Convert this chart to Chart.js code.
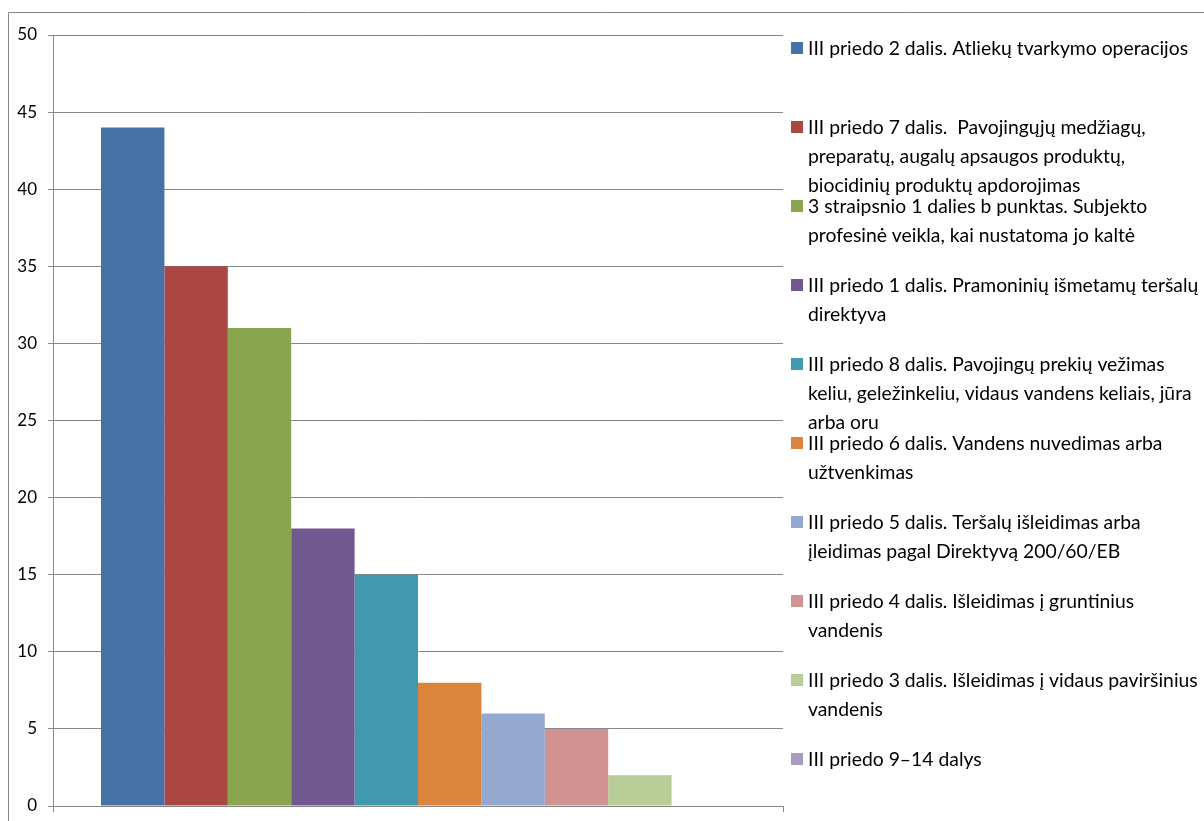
<!DOCTYPE html>
<html>
<head>
<meta charset="utf-8">
<script src="https://cdn.jsdelivr.net/npm/chart.js@4.4.1/dist/chart.umd.min.js"></script>
<style>
  html, body { margin: 0; padding: 0; background: #fff; }
  .chart-box { width: 1204px; height: 821px; position: relative; }
</style>
</head>
<body>
<div class="chart-box"><canvas id="grafico"></canvas></div>
<script>
// dados
const categorias = ['']
const valores = [44, 35, 31, 18, 15, 8, 6, 5, 2, 0]
const legendaLinhas = [
    ['III priedo 2 dalis. Atliekų tvarkymo operacijos'],
    ['III priedo 7 dalis.  Pavojingųjų medžiagų,', 'preparatų, augalų apsaugos produktų,', 'biocidinių produktų apdorojimas'],
    ['3 straipsnio 1 dalies b punktas. Subjekto', 'profesinė veikla, kai nustatoma jo kaltė'],
    ['III priedo 1 dalis. Pramoninių išmetamų teršalų', 'direktyva'],
    ['III priedo 8 dalis. Pavojingų prekių vežimas', 'keliu, geležinkeliu, vidaus vandens keliais, jūra', 'arba oru'],
    ['III priedo 6 dalis. Vandens nuvedimas arba', 'užtvenkimas'],
    ['III priedo 5 dalis. Teršalų išleidimas arba', 'įleidimas pagal Direktyvą 200/60/EB'],
    ['III priedo 4 dalis. Išleidimas į gruntinius', 'vandenis'],
    ['III priedo 3 dalis. Išleidimas į vidaus paviršinius', 'vandenis'],
    ['III priedo 9–14 dalys']
]
const yTicks = [0, 5, 10, 15, 20, 25, 30, 35, 40, 45, 50]

const cores = ['#4572A7', '#AA4643', '#89A54E', '#71588F', '#4198AF',
    '#DB843D', '#93A9CF', '#D19392', '#B9CD96', '#A99BBD']
const cinza = '#878787'
const fonte = 'Lato, "Open Sans", sans-serif'

// moldura e fundo
const moldura = {
    id: 'moldura',
    beforeDraw(chart) {
        const ctx = chart.ctx
        ctx.save()
        ctx.fillStyle = '#fff'
        ctx.fillRect(0, 0, chart.width, chart.height)
        ctx.strokeStyle = cinza
        ctx.lineWidth = 1
        ctx.beginPath()
        ctx.moveTo(8.5, chart.height)
        ctx.lineTo(8.5, 12.5)
        ctx.lineTo(chart.width, 12.5)
        ctx.stroke()
        ctx.restore()
    }
}

// legenda desenhada à mão (texto quebrado em várias linhas)
const legenda = {
    id: 'legenda',
    afterDraw(chart) {
        const ctx = chart.ctx
        ctx.save()
        ctx.font = '20px ' + fonte
        const escala = Math.min(1, 380 / ctx.measureText(legendaLinhas[0][0]).width)
        ctx.textBaseline = 'middle'
        chart.data.datasets.forEach((ds, i) => {
            const y0 = 48 + i * 79
            ctx.fillStyle = ds.backgroundColor
            ctx.fillRect(791, y0 - 6, 12, 12)
            ctx.fillStyle = '#000'
            legendaLinhas[i].forEach((linha, j) => {
                ctx.save()
                ctx.translate(808, y0 + j * 29)
                ctx.scale(escala, 1)
                ctx.fillText(linha, 0, 1)
                ctx.restore()
            })
        })
        ctx.restore()
    }
}

const grafico = new Chart(document.getElementById('grafico'), {
    type: 'bar',
    data: {
        labels: categorias,
        datasets: valores.map((v, i) => ({
            label: legendaLinhas[i].join(' '),
            data: [v],
            backgroundColor: cores[i],
            borderWidth: 0,
            categoryPercentage: 0.8685,
            barPercentage: 1
        }))
    },
    options: {
        responsive: true,
        maintainAspectRatio: false,
        animation: false,
        layout: { padding: { left: 0, top: 35, right: 421, bottom: 0 } },
        plugins: {
            legend: { display: false },
            tooltip: { enabled: false }
        },
        scales: {
            x: {
                offset: true,
                grid: { offset: true, drawOnChartArea: false, drawTicks: true, tickLength: 6, color: cinza },
                border: { color: cinza },
                ticks: { display: false },
                afterFit: s => { s.height = 15 }
            },
            y: {
                min: 0,
                max: 50,
                afterBuildTicks: s => { s.ticks = yTicks.map(v => ({ value: v })) },
                grid: { color: cinza, tickLength: 5 },
                border: { color: cinza },
                ticks: { color: '#000', padding: 11, font: { family: fonte, size: 17 } },
                afterFit: s => { s.width = 53; s.paddingBottom = 0; s.paddingTop = 0 }
            }
        }
    },
    plugins: [moldura, legenda]
})
</script>
</body>
</html>
